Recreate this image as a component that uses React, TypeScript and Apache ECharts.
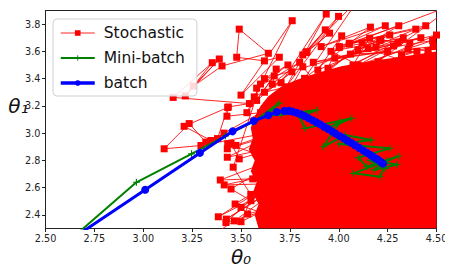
import React, { useEffect, useRef } from "react";
import * as echarts from "echarts";

// ---- data ----
const xTicks = ["2.50", "2.75", "3.00", "3.25", "3.50", "3.75", "4.00", "4.25", "4.50"];
const yTicks = ["2.4", "2.6", "2.8", "3.0", "3.2", "3.4", "3.6", "3.8"];

// batch gradient descent path (theta0, theta1)
const batchPath: number[][] = [
  [2.6, 2.19], [3.01, 2.585], [3.29, 2.855], [3.457, 3.013], [3.565, 3.089],
  [3.64, 3.131], [3.683, 3.155], [3.722, 3.163], [3.745, 3.163], [3.765, 3.158],
  [3.785, 3.15], [3.805, 3.138], [3.825, 3.125], [3.845, 3.11], [3.865, 3.095],
  [3.885, 3.08], [3.905, 3.064], [3.925, 3.047], [3.945, 3.03], [3.965, 3.013],
  [3.985, 2.996], [4.005, 2.979], [4.025, 2.962], [4.045, 2.944], [4.065, 2.927],
  [4.085, 2.909], [4.105, 2.891], [4.125, 2.873], [4.145, 2.855], [4.162, 2.84],
  [4.178, 2.825], [4.192, 2.812], [4.205, 2.8], [4.215, 2.789], [4.222, 2.781], [4.226, 2.776],
];

// mini-batch gradient descent path
const miniPath: number[][] = [
  [2.58, 2.16], [2.965, 2.639], [3.247, 2.848], [3.42, 2.98], [3.56, 3.08],
  [3.695, 3.22], [3.63, 3.13], [3.7, 3.133], [3.887, 3.17], [3.8, 3.12],
  [3.827, 3.035], [4.066, 3.109], [3.95, 3.04], [4.006, 3.084], [3.921, 2.9],
  [4.032, 2.986], [4.168, 2.95], [4.0, 2.92], [4.262, 2.889], [4.1, 2.82],
  [4.143, 2.754], [4.305, 2.83], [4.075, 2.705], [4.211, 2.68], [4.25, 2.8],
  [4.18, 2.73], [4.3, 2.77], [4.16, 2.8], [4.24, 2.74], [4.2, 2.78],
];

// stochastic gradient descent path (visible sample of it)
const sgdPath: number[][] = [
  [3.3, 2.2], [3.466, 2.356], [3.8, 2.7], [3.425, 2.369], [3.7, 2.62],
  [3.384, 2.386], [3.62, 2.6], [3.423, 2.344], [3.9, 2.55], [3.534, 2.406],
  [3.5, 2.454], [3.72, 2.7], [3.551, 2.504], [3.449, 2.59], [3.75, 2.85],
  [3.394, 2.656], [3.56, 2.664], [3.414, 2.62], [3.619, 2.627], [3.85, 2.95],
  [3.43, 2.823], [3.65, 2.98], [3.43, 2.885], [3.449, 2.924], [3.491, 2.811],
  [3.577, 2.848], [3.432, 2.922], [3.474, 2.91], [3.7, 3.02], [3.295, 2.909],
  [3.107, 2.885], [3.235, 3.07], [3.32, 2.934], [3.346, 2.946], [3.209, 3.05],
  [3.432, 3.188], [3.38, 2.96], [3.413, 3.0], [3.6, 3.15], [3.428, 3.124],
  [3.435, 3.192], [3.543, 3.217], [3.153, 3.262], [3.353, 3.517], [3.215, 3.273],
  [3.389, 3.544], [3.256, 3.345], [3.403, 3.493], [3.64, 3.586], [3.491, 3.763],
  [3.478, 3.557], [3.62, 3.53], [3.696, 3.557], [3.5, 3.279], [3.762, 3.825],
  [3.568, 3.266], [3.705, 3.37], [3.936, 3.874], [3.731, 3.34], [3.999, 3.857],
  [3.816, 3.574], [3.931, 3.758], [3.838, 3.598], [3.953, 3.734], [3.833, 3.591],
  [4.1, 3.98], [3.825, 3.402], [4.162, 3.778], [3.91, 3.635], [4.238, 3.788],
  [4.004, 3.635], [4.307, 3.788], [3.945, 3.476], [4.015, 3.714], [3.893, 3.463],
  [4.394, 3.763], [4.054, 3.66], [4.445, 3.788], [4.073, 3.5], [4.158, 3.697],
  [4.002, 3.628], [4.209, 3.68], [4.098, 3.61], [4.261, 3.72], [4.054, 3.653],
  [4.6, 3.95], [4.201, 3.524], [4.304, 3.664], [4.215, 3.685], [4.363, 3.66],
  [4.321, 3.574], [4.483, 3.635], [4.355, 3.616], [4.457, 3.605], [4.457, 3.574],
  [4.2, 3.3], [4.4, 3.45], [3.95, 3.2], [4.1, 3.0], [3.816, 3.487], [3.7, 3.2],
  [3.9, 3.3], [3.6, 3.05], [3.8, 2.9], [4.35, 3.52], [4.15, 3.62], [4.42, 3.7],
  [3.98, 3.55], [4.25, 3.6], [3.87, 3.52], [4.5, 3.72], [4.05, 3.45], [3.62, 3.3],
  [3.76, 3.45], [3.58, 3.24], [3.67, 3.42], [3.53, 3.15], [3.6, 3.36],
  [3.46, 2.75], [3.55, 2.55], [3.47, 2.48], [3.6, 2.42], [3.5, 2.35],
  [3.8, 3.3], [4.12, 3.66], [3.9, 3.4], [4.28, 3.64], [4.0, 3.42], [4.4, 3.6],
  [4.06, 3.58], [4.48, 3.68], [4.1, 3.5], [3.96, 3.6], [4.33, 3.7], [4.19, 3.63],
  [3.62, 3.4], [3.74, 3.5], [3.58, 3.33], [3.8, 3.52], [3.66, 3.36], [3.68, 3.47],
];

// outline of the region where the stochastic path is dense (fully red)
const sgdDenseOutline: number[][] = [
  [4.5, 3.6], [4.32, 3.56], [4.167, 3.53], [4.013, 3.49], [3.885, 3.44],
  [3.782, 3.39], [3.705, 3.34], [3.64, 3.27], [3.6, 3.2], [3.57, 3.12],
  [3.55, 3.04], [3.56, 2.96], [3.54, 2.88], [3.57, 2.8], [3.55, 2.72],
  [3.58, 2.64], [3.56, 2.56], [3.59, 2.48], [3.57, 2.4], [3.59, 2.3], [4.5, 2.3],
];

const X_MIN = 2.5, X_MAX = 4.5, Y_MIN = 2.3, Y_MAX = 3.9;

const PLUS = "path://M-0.16,-1H0.16V-0.16H1V0.16H0.16V1H-0.16V0.16H-1V-0.16H-0.16Z";
const FONT = "DejaVu Sans";

export default function App() {
  const ref = useRef<HTMLDivElement>(null);
  useEffect(() => {
    if (!ref.current) return;
    const chart = echarts.init(ref.current, null, { renderer: "svg" });
    chart.setOption({
      animation: false,
      backgroundColor: "#fff",
      textStyle: { fontFamily: FONT },
      grid: {
        left: 45.5, right: 16.5, top: 10.5, bottom: 49.5,
        show: true, borderColor: "#222", borderWidth: 1, backgroundColor: "transparent",
      },
      legend: {
        data: [
          { name: "Stochastic", lineStyle: { width: 1 } },
          { name: "Mini-batch", lineStyle: { width: 2 } },
          { name: "batch", lineStyle: { width: 3.5 } },
        ],
        orient: "vertical",
        left: 53, top: 19,
        itemWidth: 34, itemHeight: 7, itemGap: 9,
        padding: [6, 12, 5, 6],
        backgroundColor: "rgba(255,255,255,0.85)",
        borderColor: "#d0d0d0", borderWidth: 1, borderRadius: 4,
        textStyle: { fontSize: 15.5, color: "#111", fontFamily: FONT, padding: [0, 0, 0, 4] },
      },
      xAxis: {
        type: "value", min: X_MIN, max: X_MAX, interval: 0.25,
        name: "θ₀", nameLocation: "middle", nameGap: 18, nameMoveOverlap: false,
        nameTextStyle: { fontSize: 20, fontStyle: "italic", color: "#111", fontFamily: FONT },
        axisLine: { show: true, lineStyle: { color: "#222", width: 1 } },
        axisTick: { show: true, length: 3.5, lineStyle: { color: "#222" } },
        axisLabel: {
          fontSize: 9.7, color: "#222", margin: 5,
          formatter: (v: number) => xTicks.find((t) => Math.abs(parseFloat(t) - v) < 1e-6) ?? "",
        },
        splitLine: { show: false },
      },
      yAxis: {
        type: "value", min: Y_MIN, max: Y_MAX, splitNumber: 8,
        name: "θ₁", nameLocation: "middle", nameGap: 17, nameRotate: 0, nameMoveOverlap: false,
        nameTextStyle: {
          fontSize: 20, fontStyle: "italic", color: "#111", fontFamily: FONT,
          verticalAlign: "bottom", padding: [0, 0, 4, 0],
        },
        axisLine: { show: true, lineStyle: { color: "#222", width: 1 } },
        axisTick: { show: true, length: 3.5, lineStyle: { color: "#222" } },
        axisLabel: {
          fontSize: 9.7, color: "#222", margin: 5, showMinLabel: false, showMaxLabel: false,
          formatter: (v: number) => yTicks.find((t) => Math.abs(parseFloat(t) - v) < 1e-6) ?? "",
        },
        splitLine: { show: false },
      },
      series: [
        {
          type: "custom",
          name: "sgd-dense",
          clip: true,
          silent: true,
          data: [0],
          renderItem: (_params: any, api: any) => ({
            type: "polygon",
            shape: { points: sgdDenseOutline.map((p) => api.coord(p)) },
            style: { fill: "#ff0000" },
          }),
          z: 1,
        },
        {
          type: "line",
          name: "Stochastic",
          data: sgdPath,
          symbol: "rect",
          symbolSize: 7,
          clip: true,
          lineStyle: { color: "#ff0000", width: 1, opacity: 0.85 },
          itemStyle: { color: "#ff0000" },
          z: 2,
        },
        {
          type: "line",
          name: "Mini-batch",
          data: miniPath,
          symbol: PLUS,
          symbolSize: 7,
          clip: true,
          lineStyle: { color: "#008000", width: 2 },
          itemStyle: { color: "#008000" },
          z: 3,
        },
        {
          type: "line",
          name: "batch",
          data: batchPath,
          symbol: "circle",
          symbolSize: 8,
          clip: true,
          lineStyle: { color: "#0000ff", width: 3 },
          itemStyle: { color: "#0000ff" },
          z: 4,
        },
      ],
    });
    return () => chart.dispose();
  }, []);
  return <div ref={ref} style={{ width: 453, height: 278, margin: -8 }} />;
}
